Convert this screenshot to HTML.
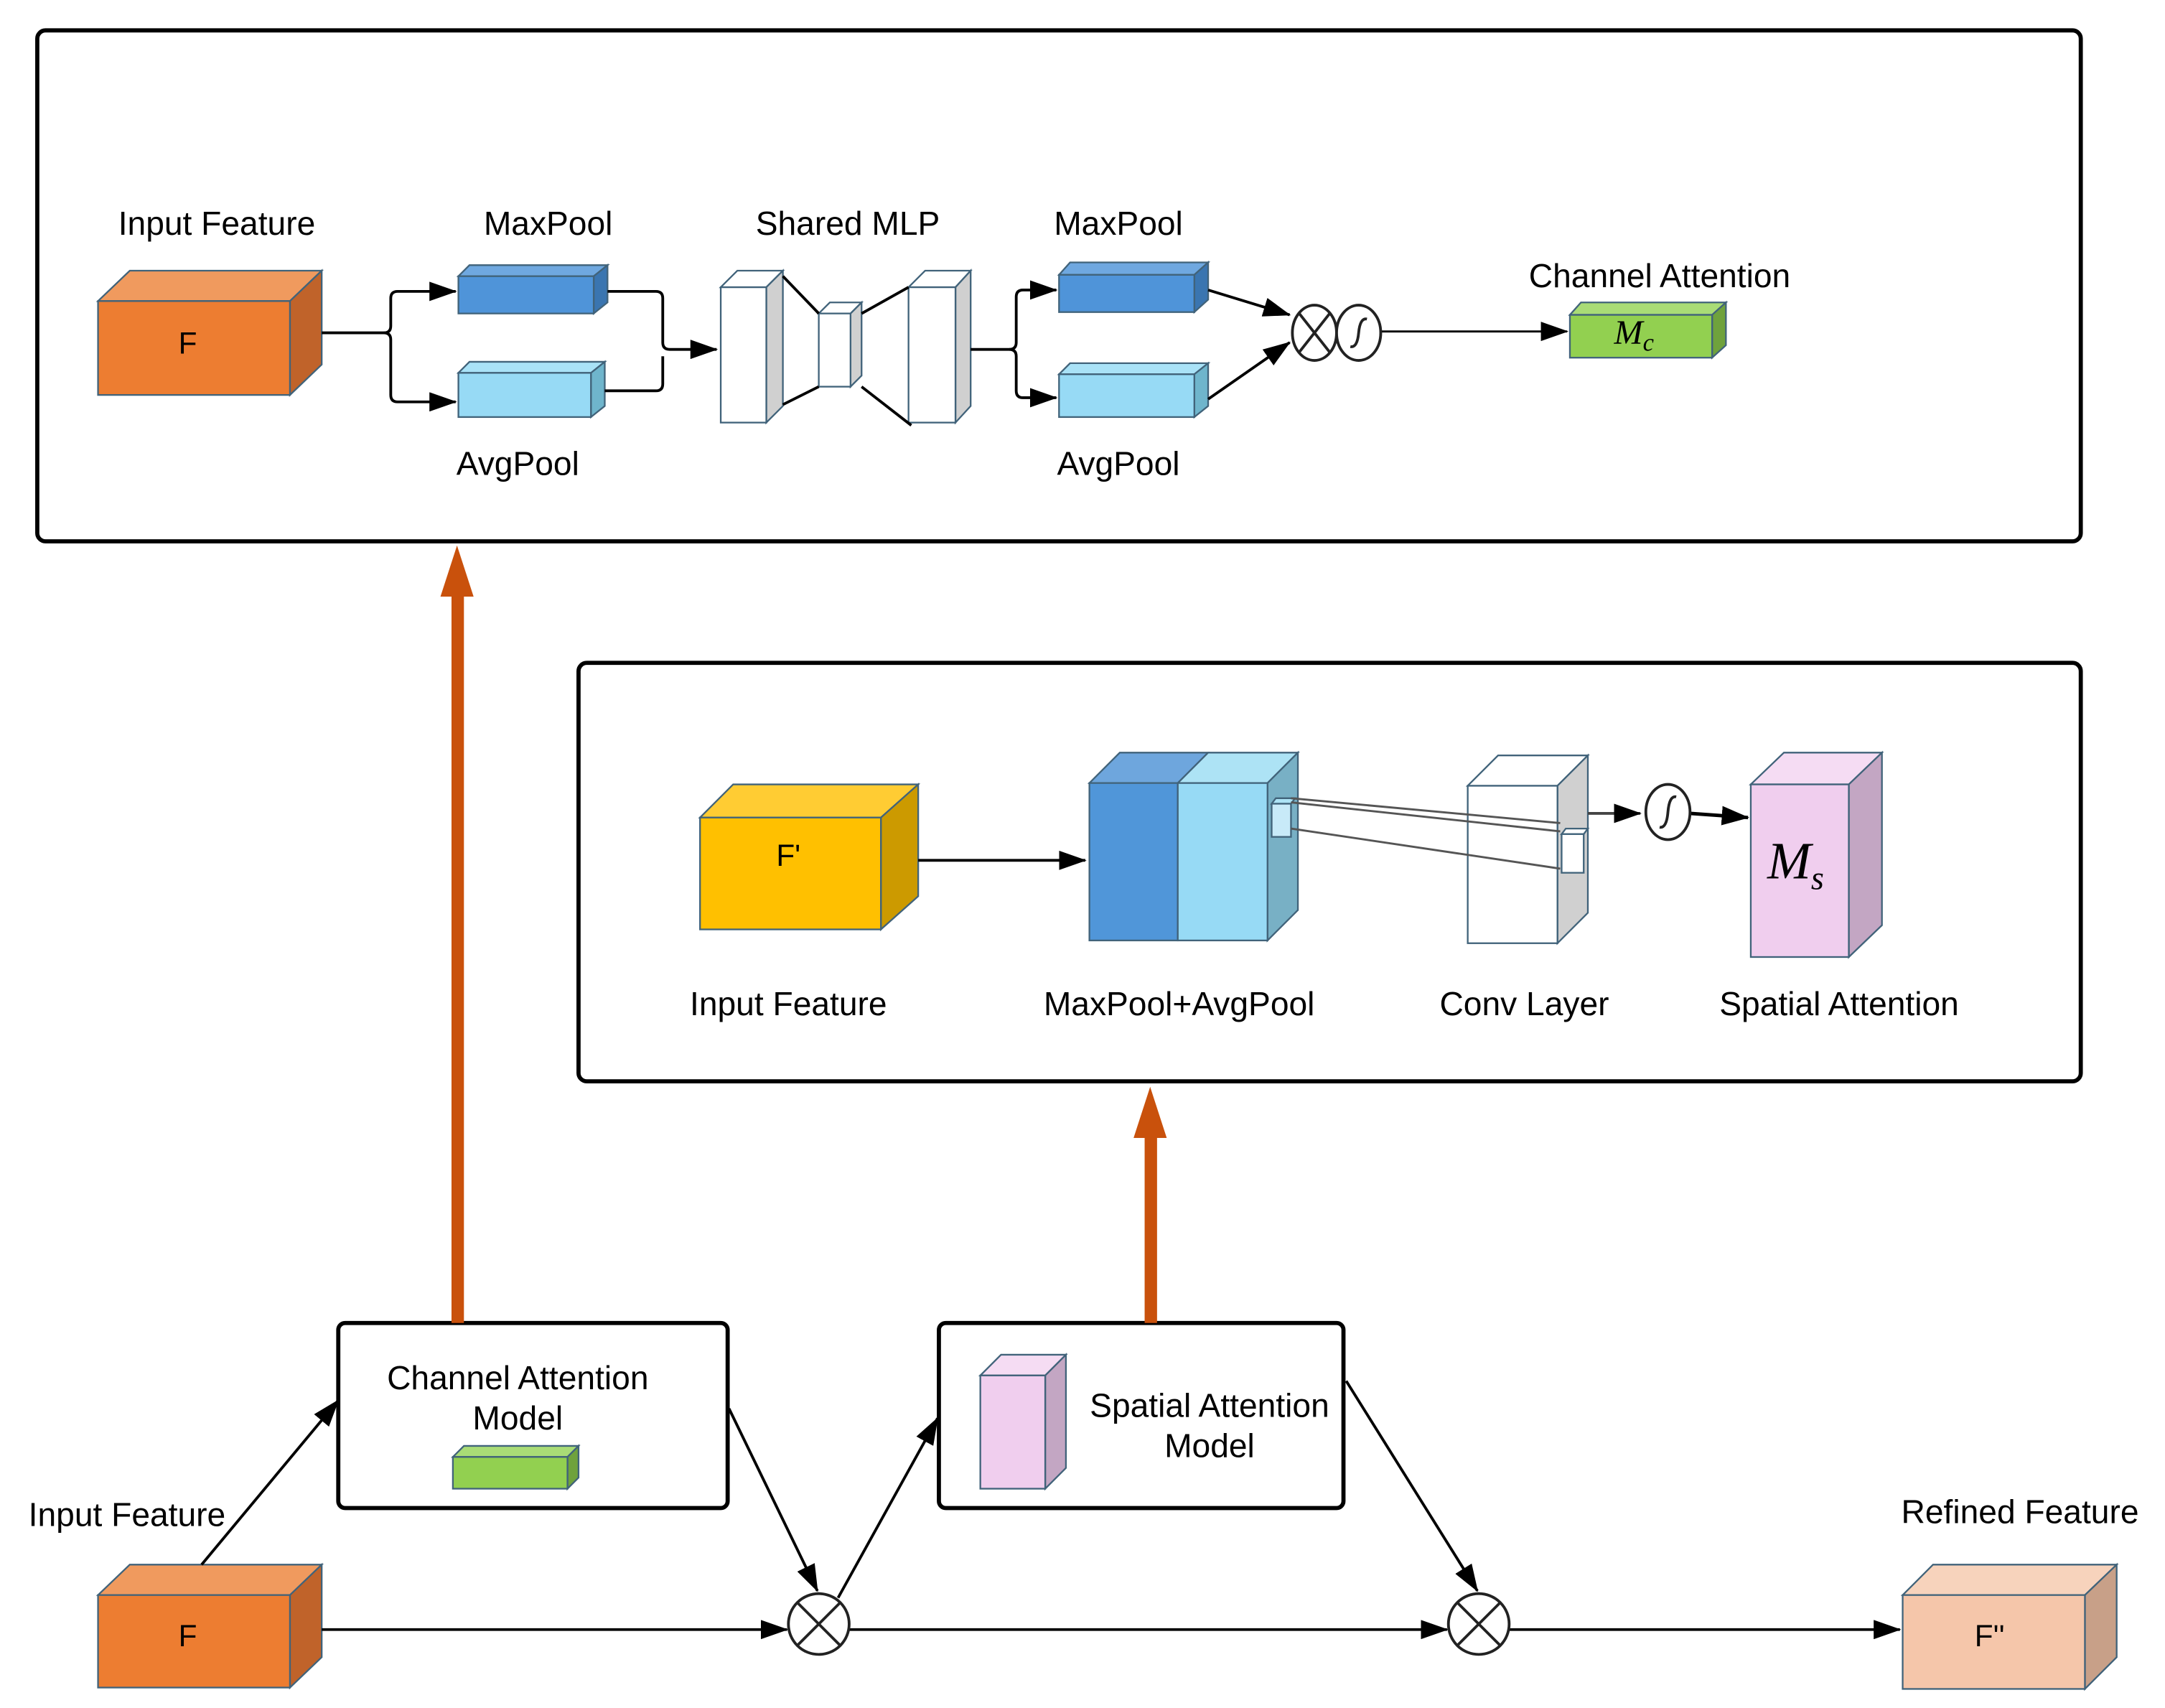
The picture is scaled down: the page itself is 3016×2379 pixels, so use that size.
<!DOCTYPE html>
<html><head><meta charset="utf-8"><style>html,body{margin:0;padding:0;background:#fff}svg{display:block}text{font-family:"Liberation Sans",sans-serif;fill:#000}.m{font-family:"Liberation Serif",serif;font-style:italic}</style></head><body>
<svg width="3016" height="2379" viewBox="0 0 1568 1236.8" preserveAspectRatio="none" xmlns="http://www.w3.org/2000/svg">
<defs>
<marker id="b" markerWidth="20" markerHeight="14" refX="19" refY="7" orient="auto" markerUnits="userSpaceOnUse" viewBox="0 0 20 14"><path d="M0,0 L20,7 L0,14z" fill="#000"/></marker>
</defs>
<g fill="none" stroke="#000" stroke-width="3">
<rect x="27" y="22" width="1480" height="370" rx="6"/>
<rect x="419" y="480" width="1088" height="303" rx="6"/>
<rect x="245" y="958" width="282" height="134" rx="5"/>
<rect x="680" y="958" width="293" height="134" rx="5"/>
</g>
<g stroke="#41637a" stroke-width="1.2">
<polygon points="71,218 94,196 233,196 210,218" fill="#F09A5E"/><polygon points="210,218 233,196 233,264 210,286" fill="#C0632A"/><rect x="71" y="218" width="139" height="68" fill="#ED7D31"/>
<polygon points="332,200 340,192 440,192 430,200" fill="#6FA8E0"/><polygon points="430,200 440,192 440,219 430,227" fill="#3A75B0"/><rect x="332" y="200" width="98" height="27" fill="#4F94D9"/>
<polygon points="332,270 340,262 438,262 428,270" fill="#A9E2F7"/><polygon points="428,270 438,262 438,294 428,302" fill="#6FB5CC"/><rect x="332" y="270" width="96" height="32" fill="#97DAF5"/>
<polygon points="522,208 534,196 567,196 555,208" fill="#fff"/><polygon points="555,208 567,196 567,294 555,306" fill="#d0d0d0"/><rect x="522" y="208" width="33" height="98" fill="#fff"/>
<polygon points="593,227 601,219 624,219 616,227" fill="#fff"/><polygon points="616,227 624,219 624,272 616,280" fill="#d0d0d0"/><rect x="593" y="227" width="23" height="53" fill="#fff"/>
<polygon points="658,208 670,196 703,196 692,208" fill="#fff"/><polygon points="692,208 703,196 703,294 692,306" fill="#d0d0d0"/><rect x="658" y="208" width="34" height="98" fill="#fff"/>
<polygon points="767,199 775,190 875,190 865,199" fill="#6FA8E0"/><polygon points="865,199 875,190 875,217 865,226" fill="#3A75B0"/><rect x="767" y="199" width="98" height="27" fill="#4F94D9"/>
<polygon points="767,271 775,263 875,263 865,271" fill="#A9E2F7"/><polygon points="865,271 875,263 875,294 865,302" fill="#6FB5CC"/><rect x="767" y="271" width="98" height="31" fill="#97DAF5"/>
<polygon points="1137,228 1145,219 1250,219 1240,228" fill="#A9DC76"/><polygon points="1240,228 1250,219 1250,250 1240,259" fill="#6FA23C"/><rect x="1137" y="228" width="103" height="31" fill="#92D050"/>
<polygon points="507,592 531,568 665,568 638,592" fill="#FFCC33"/><polygon points="638,592 665,568 665,649 638,673" fill="#CC9A00"/><rect x="507" y="592" width="131" height="81" fill="#FFC000"/>
<polygon points="789,567 811,545 875,545 853,567" fill="#6EA6DD"/><polygon points="853,567 875,545 940,545 918,567" fill="#ADE3F5"/><polygon points="918,567 940,545 940,659 918,681" fill="#78B0C5"/>
<rect x="789" y="567" width="64" height="114" fill="#5096D9"/><rect x="853" y="567" width="65" height="114" fill="#97DAF5"/>
<polygon points="921,582 924,578 938,578 935,582" fill="#ADE3F5"/><rect x="921" y="582" width="14" height="24" fill="#c8eaf8"/>
<polygon points="1063,569 1085,547 1150,547 1128,569" fill="#fff"/><polygon points="1128,569 1150,547 1150,661 1128,683" fill="#d0d0d0"/><rect x="1063" y="569" width="65" height="114" fill="#fff"/>
<polygon points="1131,604 1134,600 1150,600 1147,604" fill="#fff"/><rect x="1131" y="604" width="16" height="28" fill="#fff"/>
<polygon points="1268,568 1292,545 1363,545 1339,568" fill="#F5DCF3"/><polygon points="1339,568 1363,545 1363,670 1339,693" fill="#C3A6C3"/><rect x="1268" y="568" width="71" height="125" fill="#F0CEEE"/>
<polygon points="328,1055 336,1047 419,1047 411,1055" fill="#A9DC76"/><polygon points="411,1055 419,1047 419,1070 411,1078" fill="#6FA23C"/><rect x="328" y="1055" width="83" height="23" fill="#92D050"/>
<polygon points="710,996 725,981 772,981 757,996" fill="#F5DCF3"/><polygon points="757,996 772,981 772,1063 757,1078" fill="#C3A6C3"/><rect x="710" y="996" width="47" height="82" fill="#F0CEEE"/>
<polygon points="71,1155 94,1133 233,1133 210,1155" fill="#F09A5E"/><polygon points="210,1155 233,1133 233,1200 210,1222" fill="#C0632A"/><rect x="71" y="1155" width="139" height="67" fill="#ED7D31"/>
<polygon points="1378,1155 1400,1133 1533,1133 1510,1155" fill="#F7D3BC"/><polygon points="1510,1155 1533,1133 1533,1200 1510,1223" fill="#C8A088"/><rect x="1378" y="1155" width="132" height="68" fill="#F5C6AA"/>
</g>
<g fill="none" stroke="#000" stroke-width="2">
<path d="M233,241 H278 Q283,241 283,236 V216 Q283,211 288,211 H330" marker-end="url(#b)"/>
<path d="M278,241 Q283,241 283,246 V286 Q283,291 288,291 H330" marker-end="url(#b)"/>
<path d="M440,211 H475 Q480,211 480,216 V248 Q480,253 485,253 H519" marker-end="url(#b)"/>
<path d="M438,283 H475 Q480,283 480,278 V258"/>
<path d="M703,253 H731 Q736,253 736,248 V215 Q736,210 741,210 H765" marker-end="url(#b)"/>
<path d="M731,253 Q736,253 736,258 V283 Q736,288 741,288 H765" marker-end="url(#b)"/>
<path d="M875,210 L934,228" marker-end="url(#b)"/>
<path d="M875,289 L934,248" marker-end="url(#b)"/>
<path d="M1000,240 H1135" stroke-width="1.5" marker-end="url(#b)"/>
<path d="M665,623 H786" marker-end="url(#b)"/>
<path d="M1150,589 H1188" stroke="#444" marker-end="url(#b)"/>
<path d="M1224,589 L1266,592" stroke-width="2.5" marker-end="url(#b)"/>
<path d="M567,200 L593,227 M567,293 L593,280 M624,227 L658,208 M624,280 L660,308"/>
<path d="M935,578 L1130,596 M935,581 L1130,602 M935,600 L1130,629" stroke="#555" stroke-width="1.5"/>
<path d="M233,1180 H570" marker-end="url(#b)"/>
<path d="M615,1180 H1048" marker-end="url(#b)"/>
<path d="M1093,1180 H1376" marker-end="url(#b)"/>
<path d="M146,1133 L245,1014" marker-end="url(#b)"/>
<path d="M528,1020 L592,1152" marker-end="url(#b)"/>
<path d="M607,1157 L679,1027" marker-end="url(#b)"/>
<path d="M975,1000 L1070,1152" marker-end="url(#b)"/>
</g>
<rect x="327" y="428" width="9" height="530" fill="#C9510C"/>
<polygon points="319,432 331,395 343,432" fill="#C9510C"/>
<rect x="829" y="820" width="9" height="138" fill="#C9510C"/>
<polygon points="821,824 833,787 845,824" fill="#C9510C"/>
<g fill="#fff" stroke="#222" stroke-width="2">
<ellipse cx="952" cy="241" rx="16" ry="20"/><ellipse cx="984" cy="241" rx="16" ry="20"/>
<ellipse cx="1208" cy="588" rx="16" ry="20"/>
<ellipse cx="593" cy="1176" rx="22" ry="22"/><ellipse cx="1071" cy="1176" rx="22" ry="22"/>
</g>
<g fill="none" stroke="#222" stroke-width="2">
<path d="M941,227 L963,255 M963,227 L941,255"/>
<path d="M978,251 Q983,252 984,241 Q985,230 990,231"/>
<path d="M1202,599 Q1207,600 1208,588 Q1209,576 1214,577"/>
<path d="M578,1161 L608,1191 M608,1161 L578,1191"/>
<path d="M1056,1161 L1086,1191 M1086,1161 L1056,1191"/>
</g>
<g text-anchor="middle" style="font-size:24px">
<text x="157" y="170">Input Feature</text>
<text x="397" y="170">MaxPool</text>
<text x="375" y="344">AvgPool</text>
<text x="614" y="170">Shared MLP</text>
<text x="810" y="170">MaxPool</text>
<text x="810" y="344">AvgPool</text>
<text x="1202" y="208">Channel Attention</text>
<text x="136" y="256" style="font-size:22px">F</text>
<text x="571" y="627" style="font-size:22px">F'</text>
<text x="571" y="735">Input Feature</text>
<text x="854" y="735">MaxPool+AvgPool</text>
<text x="1104" y="735">Conv Layer</text>
<text x="1332" y="735">Spatial Attention</text>
<text x="375" y="1006">Channel Attention</text>
<text x="375" y="1035">Model</text>
<text x="876" y="1026">Spatial Attention</text>
<text x="876" y="1055">Model</text>
<text x="92" y="1105">Input Feature</text>
<text x="136" y="1192" style="font-size:22px">F</text>
<text x="1441" y="1192" style="font-size:22px">F''</text>
<text x="1463" y="1103">Refined Feature</text>
</g>
<text class="m" x="1169" y="249" style="font-size:25px">M<tspan dy="5" style="font-size:18px">c</tspan></text>
<text class="m" x="1280" y="636" style="font-size:38px">M<tspan dy="8" style="font-size:24px">s</tspan></text>
</svg>
</body></html>
